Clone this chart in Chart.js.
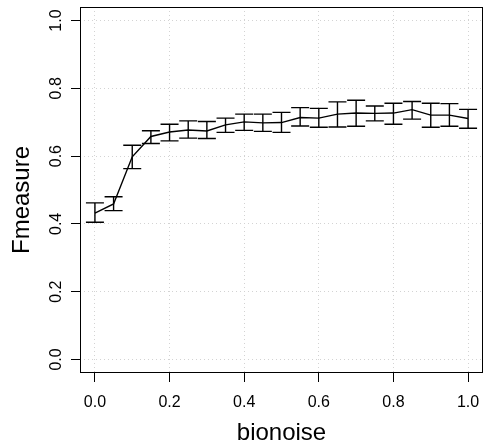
<!DOCTYPE html>
<html><head><meta charset="utf-8">
<script src="https://cdn.jsdelivr.net/npm/chart.js@4/dist/chart.umd.min.js"></script>
<style>html,body{margin:0;padding:0;background:#fff}#wrap{width:486px;height:443px}</style>
</head><body><div id="wrap"><canvas id="c" width="486" height="443"></canvas></div>
<script>
const bionoise = [0.00,0.05,0.10,0.15,0.20,0.25,0.30,0.35,0.40,0.45,0.50,0.55,0.60,0.65,0.70,0.75,0.80,0.85,0.90,0.95,1.00];
const fmeasure = [0.432,0.459,0.598,0.658,0.671,0.677,0.674,0.692,0.701,0.698,0.699,0.714,0.712,0.724,0.727,0.726,0.727,0.737,0.721,0.721,0.711];
const upperErr = [0.462,0.480,0.632,0.675,0.694,0.704,0.702,0.712,0.724,0.724,0.729,0.743,0.741,0.760,0.765,0.748,0.756,0.761,0.756,0.755,0.738];
const lowerErr = [0.405,0.439,0.563,0.637,0.645,0.653,0.652,0.670,0.676,0.673,0.670,0.689,0.685,0.686,0.688,0.704,0.694,0.709,0.685,0.688,0.682];
const xTicks = [0.0,0.2,0.4,0.6,0.8,1.0];
const yTicks = [0.0,0.2,0.4,0.6,0.8,1.0];
const xLabel = 'bionoise';
const yLabel = 'Fmeasure';

const FONT = "'Liberation Sans', Arial, Helvetica, sans-serif";

const errorBars = {
  id: 'errorBars',
  afterDatasetsDraw(chart) {
    const {ctx, scales: {x, y}} = chart;
    ctx.save();
    ctx.strokeStyle = '#000';
    ctx.lineWidth = 1.4;
    bionoise.forEach((v, i) => {
      const px = x.getPixelForValue(v);
      const pt = y.getPixelForValue(upperErr[i]);
      const pb = y.getPixelForValue(lowerErr[i]);
      ctx.beginPath();
      ctx.moveTo(px, pt); ctx.lineTo(px, pb);
      ctx.moveTo(px - 9, pt); ctx.lineTo(px + 9, pt);
      ctx.moveTo(px - 9, pb); ctx.lineTo(px + 9, pb);
      ctx.stroke();
    });
    ctx.restore();
  }
};
const frame = {
  id: 'frame',
  afterDraw(chart) {
    const {ctx, chartArea: a} = chart;
    ctx.save();
    ctx.strokeStyle = '#000';
    ctx.lineWidth = 1;
    ctx.strokeRect(Math.round(a.left) + 0.5, Math.round(a.top) + 0.5, Math.round(a.right - a.left) - 1, Math.round(a.bottom - a.top) - 1);
    // y axis title, centred slightly below the plot middle as in the reference
    ctx.translate(22, (a.top + a.bottom) / 2 + 10);
    ctx.rotate(-Math.PI / 2);
    ctx.fillStyle = '#000';
    ctx.font = '24px ' + FONT;
    ctx.textAlign = 'center';
    ctx.textBaseline = 'middle';
    ctx.fillText(yLabel, 0, 0);
    ctx.restore();
  }
};

new Chart(document.getElementById('c'), {
  type: 'line',
  data: {
    datasets: [{
      data: bionoise.map((v, i) => ({x: v, y: fmeasure[i]})),
      borderColor: '#000',
      borderWidth: 1.4,
      pointRadius: 0,
      tension: 0,
      fill: false
    }]
  },
  options: {
    responsive: false,
    animation: false,
    devicePixelRatio: 1,
    layout: {padding: {top: 7, right: 3, left: 0, bottom: 0}},
    plugins: {legend: {display: false}, tooltip: {enabled: false}},
    scales: {
      x: {
        type: 'linear', min: -0.04, max: 1.04,
        afterBuildTicks: s => { s.ticks = xTicks.map(v => ({value: v})); },
        afterFit: s => { s.height = 70; s.paddingLeft = 0; s.paddingRight = 0; },
        ticks: {color: '#000', font: {family: FONT, size: 16}, padding: 11, maxRotation: 0, minRotation: 0,
                callback: v => Number(v).toFixed(1)},
        grid: {color: '#d3d3d3', lineWidth: 1, drawTicks: true, tickLength: 9, tickColor: '#000', tickWidth: 1},
        border: {display: false, dash: [1, 3]},
        title: {display: true, text: xLabel, color: '#000', font: {family: FONT, size: 24, lineHeight: 1}, padding: {top: 0, bottom: -2}}
      },
      y: {
        type: 'linear', min: -0.04, max: 1.04,
        afterBuildTicks: s => { s.ticks = yTicks.map(v => ({value: v})); },
        afterFit: s => { s.width = 80; s.paddingTop = 0; s.paddingBottom = 0; },
        ticks: {color: '#000', font: {family: FONT, size: 16}, padding: 3, minRotation: 90, maxRotation: 90, crossAlign: 'center',
                callback: v => Number(v).toFixed(1)},
        grid: {color: '#d3d3d3', lineWidth: 1, drawTicks: true, tickLength: 9, tickColor: '#000', tickWidth: 1},
        border: {display: false, dash: [1, 3]},
        title: {display: false, text: yLabel}
      }
    }
  },
  plugins: [errorBars, frame]
});
</script>
</body></html>
